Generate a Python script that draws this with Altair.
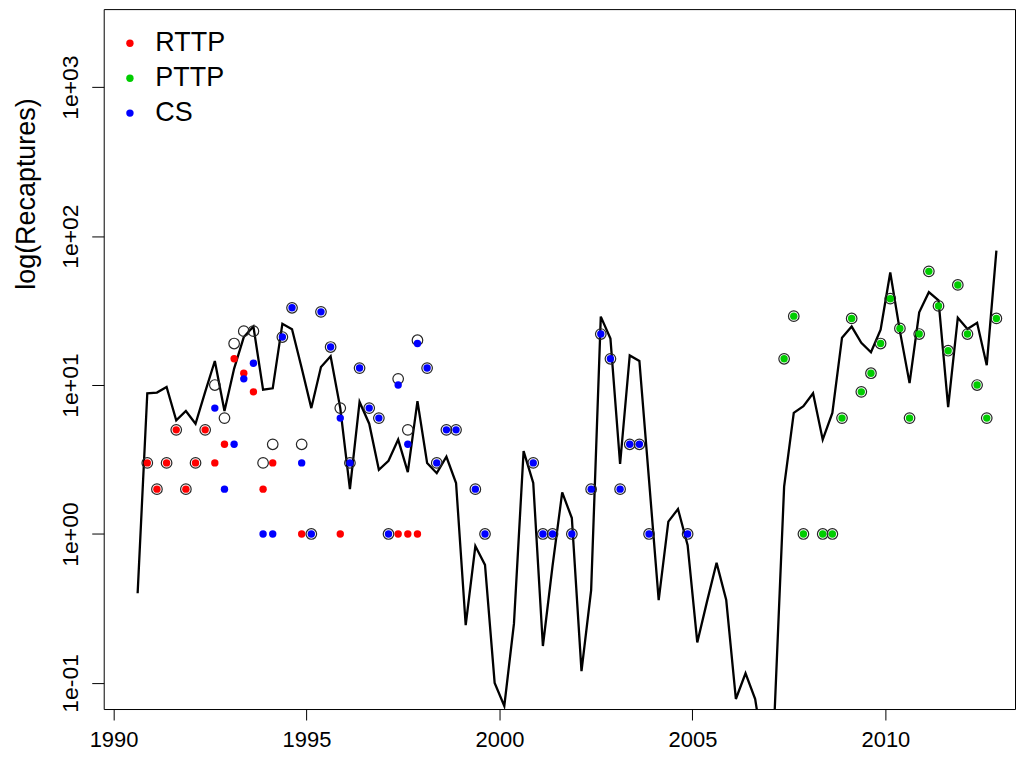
import altair as alt
import pandas as pd

# ---- data ----
# quarterly time grid: first observed quarter (index 0) is 1990.875, step 0.25 years
t_first = 1990.875
t_step = 0.25

# fitted line, quarter indices -1 .. 88
line_start_index = -1
line_values = [
    0.40, 8.8, 8.9, 9.7, 5.8, 6.7, 5.5, 9.0, 14.5, 6.7,
    12.9, 21, 24.7, 9.3, 9.5, 25.8, 23.7, 13, 7.0, 13.2,
    15.6, 7.0, 2.0, 7.7, 5.5, 2.7, 3.1, 4.3, 2.6, 7.8,
    3.0, 2.56, 3.3, 2.2, 0.244, 0.83, 0.62, 0.10, 0.070, 0.25,
    3.6, 2.2, 0.177, 0.61, 1.9, 1.28, 0.12, 0.42, 28.8, 20.5,
    2.95, 15.8, 14.5, 2.3, 0.36, 1.21, 1.47, 0.84, 0.187, 0.35,
    0.64, 0.36, 0.078, 0.116, 0.078, 0.03, 0.06, 2.08, 6.5, 7.2,
    8.8, 4.3, 6.5, 20.8, 24.7, 19.2, 16.6, 23.5, 57, 23,
    10.3, 30.8, 42, 37, 7.1, 28.3, 23.8, 26.2, 13.6, 80,
]

rttp_q = [0, 1, 2, 3, 4, 5, 6, 7, 8, 9, 10, 11, 12, 13, 16, 20, 26, 27, 28]
rttp_v = [3, 2, 3, 5, 2, 3, 5, 3, 4, 15, 12, 9, 2, 3, 1, 1, 1, 1, 1]

cs_q = [7, 8, 9, 10, 11, 12, 13, 14, 15, 16, 17, 18, 19, 20, 21, 22, 23, 24, 25, 26,
        27, 28, 29, 30, 31, 32, 34, 35, 40, 41, 42, 44, 46, 47, 48, 49, 50, 51, 52, 56]
cs_v = [7, 2, 4, 11, 14, 1, 1, 21, 33, 3, 1, 31, 18, 6, 3, 13, 7, 6, 1, 10,
        4, 19, 13, 3, 5, 5, 2, 1, 3, 1, 1, 1, 2, 22, 15, 2, 4, 4, 1, 1]

pttp_q = [66, 67, 68, 70, 71, 72, 73, 74, 75, 76, 77, 78, 79, 80, 81, 82, 83, 84, 85, 86, 87, 88]
pttp_v = [15, 29, 1, 1, 1, 6, 28, 9, 12, 19, 38, 24, 6, 22, 58, 34, 17, 47, 22, 10, 6, 28]

total_q = [0, 1, 2, 3, 4, 5, 6, 7, 8, 9, 10, 11, 12, 13, 14, 15, 16, 17, 18, 19,
           20, 21, 22, 23, 24, 25, 26, 27, 28, 29, 30, 31, 32, 34, 35, 40, 41, 42, 44, 46,
           47, 48, 49, 50, 51, 52, 56,
           66, 67, 68, 70, 71, 72, 73, 74, 75, 76, 77, 78, 79, 80, 81, 82, 83, 84, 85, 86, 87, 88]
total_v = [3, 2, 3, 5, 2, 3, 5, 10, 6, 19, 23, 23, 3, 4, 21, 33, 4, 1, 31, 18,
           7, 3, 13, 7, 6, 1, 11, 5, 20, 13, 3, 5, 5, 2, 1, 3, 1, 1, 1, 2,
           22, 15, 2, 4, 4, 1, 1,
           15, 29, 1, 1, 1, 6, 28, 9, 12, 19, 38, 24, 6, 22, 58, 34, 17, 47, 22, 10, 6, 28]

types = ["RTTP", "PTTP", "CS"]
type_colors = ["#FF0000", "#00CD00", "#0000FF"]

x_ticks = [1990, 1995, 2000, 2005, 2010]
y_ticks = [0.1, 1, 10, 100, 1000]
y_tick_labels = ["1e-01", "1e+00", "1e+01", "1e+02", "1e+03"]
y_title = "log(Recaptures)"

x_domain = [1989.746, 2013.357]
y_domain = [0.0668, 3342]

# ---- tables ----
def tq(q):
    return t_first + t_step * q

line_df = pd.DataFrame({
    "t": [tq(line_start_index + i) for i in range(len(line_values))],
    "v": line_values,
})
total_df = pd.DataFrame({"t": [tq(q) for q in total_q], "v": total_v})
pts = []
for name, qs, vs in [("RTTP", rttp_q, rttp_v), ("CS", cs_q, cs_v), ("PTTP", pttp_q, pttp_v)]:
    for q, v in zip(qs, vs):
        pts.append({"t": tq(q), "v": v, "type": name})
pts_df = pd.DataFrame(pts)

FONT = "Liberation Sans"

label_expr = " : ".join(
    [f"abs(datum.value - {v}) < {v}*0.01 ? '{l}'" for v, l in zip(y_ticks, y_tick_labels)]
) + " : ''"

x_enc = alt.X("t:Q", scale=alt.Scale(domain=x_domain, nice=False, zero=False),
              axis=alt.Axis(values=x_ticks, format="d", title=None, grid=False, domain=False,
                            tickSize=11, tickColor="black", tickWidth=1,
                            labelFontSize=22, labelFont=FONT, labelColor="black",
                            labelPadding=10, labelBaseline="top", labelFlush=False))
y_enc = alt.Y("v:Q", scale=alt.Scale(type="log", domain=y_domain, nice=False, zero=False),
              axis=alt.Axis(values=y_ticks, labelExpr=label_expr, title=y_title, grid=False,
                            domain=False, tickSize=12, tickColor="black", tickWidth=1,
                            labelFontSize=23, labelFont=FONT, labelColor="black",
                            labelAngle=270, labelAlign="center", labelBaseline="middle",
                            labelPadding=21, labelFlush=False,
                            titleFontSize=27, titleFont=FONT, titleFontWeight="normal",
                            titleColor="black", titleAngle=270, titleAlign="center",
                            titleBaseline="middle", titleX=-77, titleY=185))

line = alt.Chart(line_df).mark_line(color="black", strokeWidth=2.3, clip=True).encode(
    x=x_enc, y=y_enc, order="t:Q")

circles = alt.Chart(total_df).mark_point(shape="circle", filled=False, color="#262626",
                                         strokeWidth=1.2, size=112, opacity=1).encode(
    x=alt.X("t:Q"), y=alt.Y("v:Q"))

dots = alt.Chart(pts_df).mark_point(shape="circle", filled=True, size=55, opacity=1).encode(
    x=alt.X("t:Q"), y=alt.Y("v:Q"),
    color=alt.Color("type:N", scale=alt.Scale(domain=types, range=type_colors),
                    legend=alt.Legend(title=None, orient="none", legendX=12.8, legendY=20.8,
                                      labelFontSize=27, labelFont=FONT, labelColor="black",
                                      symbolType="circle", symbolSize=55, symbolStrokeWidth=0,
                                      labelOffset=12, rowPadding=7, padding=0)))

chart = alt.layer(line, circles, dots).properties(
    width=914, height=702,
    autosize=alt.AutoSizeParams(type="none"),
    padding={"left": 96, "top": 0, "right": 1, "bottom": 43},
    background="white",
).configure_view(stroke="black", strokeWidth=1)

chart.save("out.html", embed_options={"renderer": "svg", "actions": False})
